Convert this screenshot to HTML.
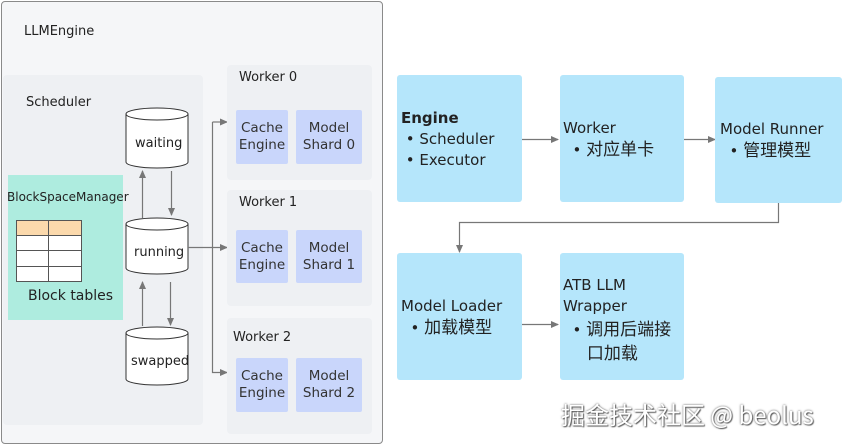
<!DOCTYPE html>
<html><head><meta charset="utf-8"><style>
*{margin:0;padding:0;box-sizing:border-box}
body{width:842px;height:445px;background:#fff;position:relative;overflow:hidden;font-family:"DejaVu Sans","Noto Sans CJK SC",sans-serif;color:#222}
.a{position:absolute}
.panel{position:absolute;background:#eef0f3;border-radius:4px}
.ib{position:absolute;background:#c9d6fb;border-radius:2px;font-size:13.5px;text-align:center;line-height:17px;display:flex;align-items:center;justify-content:center;color:#333}
.bx{position:absolute;background:#b5e6fb;border-radius:3px;font-size:15px;line-height:20px;color:#222}
.c{font-size:17px;font-family:"Noto Sans CJK SC",sans-serif}
.t{position:absolute;font-size:13px}
</style></head><body>
<div class="a" style="left:1px;top:1px;width:382px;height:443px;background:#f5f6f8;border:1px solid #8a8a8a;border-radius:4px"></div>
<div class="t" style="left:24px;top:24px">LLMEngine</div>
<div class="panel" style="left:3px;top:75px;width:200px;height:350px"></div>
<div class="t" style="left:26px;top:95px">Scheduler</div>
<div class="a" style="left:8px;top:175px;width:115px;height:145px;background:#aeecdf"></div>
<div class="t" style="left:7px;top:190px;font-size:12px">BlockSpaceManager</div>
<div class="t" style="left:28px;top:288px;font-size:14px">Block tables</div>
<svg class="a" style="left:0;top:0" width="842" height="445">
<defs><marker id="m" markerWidth="8" markerHeight="8" refX="7" refY="4" orient="auto" markerUnits="userSpaceOnUse"><path d="M0,0.5 L8,4 L0,7.5Z" fill="#777"/></marker></defs>
<rect x="16.5" y="220.5" width="65" height="61" fill="#fff" stroke="#555"/>
<rect x="17" y="221" width="64" height="14" fill="#fbd9ac"/>
<path d="M16.5 235.5H81.5M16.5 250.5H81.5M16.5 266.5H81.5M48.5 220.5V281.5" stroke="#555" fill="none"/>
<g fill="#fff" stroke="#333" stroke-width="1">
<path d="M126 114 V162 A31 6 0 0 0 188 162 V114"/><ellipse cx="157" cy="114" rx="31" ry="6"/>
<path d="M126 224 V268 A31 6 0 0 0 188 268 V224"/><ellipse cx="157" cy="224" rx="31" ry="6"/>
<path d="M126 333 V379 A31 6 0 0 0 188 379 V333"/><ellipse cx="157" cy="333" rx="31" ry="6"/>
</g>
<g stroke="#777" stroke-width="1.2" fill="none" marker-end="url(#m)">
<path d="M142.5 218 V171"/><path d="M171.5 171 V215"/>
<path d="M142.5 326 V282"/><path d="M170.5 282 V325"/>
<path d="M212.5 122 H227"/><path d="M188 247.5 H227"/><path d="M212.5 122 V372.5 H227"/>
<path d="M522 139.5 H558"/><path d="M679 139.5 H715"/>
<path d="M778.5 203 V222.5 H459.5 V252"/>
<path d="M522 324.5 H558"/>
</g>
</svg>
<div class="t" style="left:135px;top:136px">waiting</div>
<div class="t" style="left:134px;top:245px">running</div>
<div class="t" style="left:131px;top:354px">swapped</div>
<div class="panel" style="left:227px;top:65px;width:145px;height:115px"></div>
<div class="panel" style="left:227px;top:190px;width:145px;height:116px"></div>
<div class="panel" style="left:227px;top:318px;width:145px;height:116px"></div>
<div class="t" style="left:239px;top:70px">Worker 0</div>
<div class="t" style="left:239px;top:195px">Worker 1</div>
<div class="t" style="left:233px;top:330px">Worker 2</div>
<div class="ib" style="left:236px;top:110px;width:52px;height:54px">Cache<br>Engine</div>
<div class="ib" style="left:296px;top:110px;width:66px;height:54px">Model<br>Shard 0</div>
<div class="ib" style="left:236px;top:230px;width:52px;height:53px">Cache<br>Engine</div>
<div class="ib" style="left:296px;top:230px;width:66px;height:53px">Model<br>Shard 1</div>
<div class="ib" style="left:236px;top:358px;width:52px;height:54px">Cache<br>Engine</div>
<div class="ib" style="left:296px;top:358px;width:66px;height:54px">Model<br>Shard 2</div>

<div class="bx" style="left:397px;top:75px;width:125px;height:127px;padding:33px 0 0 4px;line-height:21px"><b>Engine</b><br>&nbsp;• Scheduler<br>&nbsp;• Executor</div>
<div class="bx" style="left:560px;top:75px;width:124px;height:127px;padding:43px 0 0 3px">Worker<br>&nbsp;&nbsp;• <span class="c">对应单卡</span></div>
<div class="bx" style="left:715px;top:77px;width:127px;height:126px;padding:42px 0 0 5px">Model Runner<br>&nbsp;&nbsp;• <span class="c">管理模型</span></div>
<div class="bx" style="left:397px;top:253px;width:125px;height:127px;padding:43px 0 0 4px">Model Loader<br>&nbsp;&nbsp;• <span class="c">加载模型</span></div>
<div class="bx" style="left:560px;top:253px;width:124px;height:127px;padding:22px 0 0 3px;line-height:21px">ATB LLM<br>Wrapper<br>&nbsp;&nbsp;• <span class="c">调用后端接</span><br>&nbsp;&nbsp;&nbsp;&nbsp;&nbsp;<span class="c">口加载</span></div>
<div class="a" style="left:561px;top:396px;font-size:24px;color:#fff;text-shadow:0 0 2px #555,1px 1px 1px #666;font-family:'Noto Sans CJK SC','DejaVu Sans',sans-serif">掘金技术社区 @ beolus</div>
</body></html>
